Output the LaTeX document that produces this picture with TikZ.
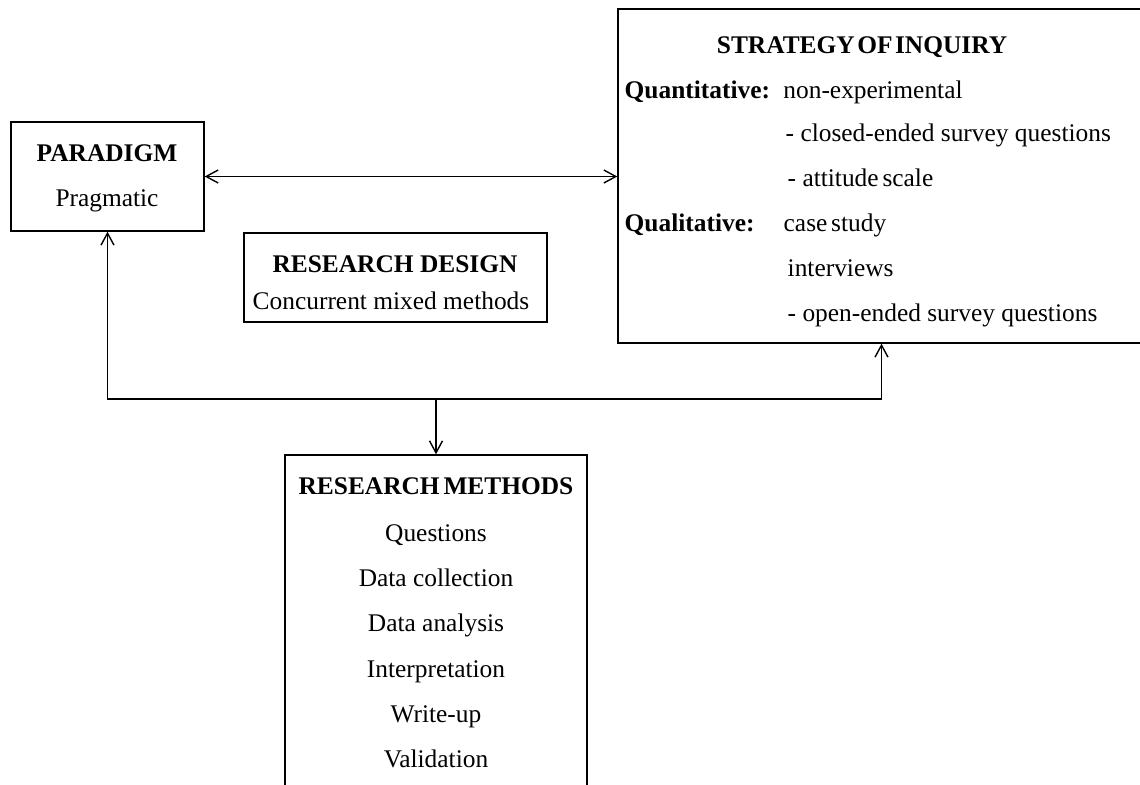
\documentclass[tikz,border=0pt]{standalone}
\usepackage{fontspec}
\setmainfont{Liberation Serif}
\usetikzlibrary{arrows.meta,positioning}
\newcommand\diagfont{\fontsize{12.7}{15}\selectfont}

\begin{document}
\begin{tikzpicture}[x=0.5pt,y=-0.5pt,line width=0.7pt,
    >={Straight Barb[length=6pt,width=6.5pt]},
    box/.style={draw,inner sep=0pt},
    ctxt/.style={anchor=base,inner sep=0pt,font=\diagfont},
    ltxt/.style={anchor=base west,inner sep=0pt,font=\diagfont},
    bold/.style={font=\diagfont\bfseries}]
  \useasboundingbox (0,0) rectangle (1140,785);

  % boxes
  \node[box,minimum width=96.5pt,minimum height=54.5pt] (paradigm) at (107.5,176.5) {};
  \node[box,minimum width=151.5pt,minimum height=44.5pt] (design) at (395.5,277.5) {};
  \node[box,minimum width=263.5pt,minimum height=167pt] (strategy) at (881.5,176) {};
  \node[box,minimum width=151pt,minimum height=182.5pt] (methods) at (436,637.5) {};

  % paradigm
  \node[ctxt,bold] (partitle) at (107,162) {PARADIGM};
  \node[ctxt] (parprag) at (107,207) {Pragmatic};

  % research design
  \node[ctxt,bold] (destitle) at (395,273) {RESEARCH DESIGN};
  \node[ctxt] (desconc) at (391,310) {Concurrent mixed methods};

  % strategy of inquiry
  \node[ctxt,bold] (strtitle) at (862,54) {STRATEGY\hspace{0.1em}OF\hspace{0.1em}INQUIRY};
  \node[ltxt,bold] (quant) at (624,99) {Quantitative:};
  \node[ltxt] (nonexp) at ([xshift=6pt]quant.base east) {non-experimental};
  \node[ltxt] (closed) at (785,142) {- closed-ended survey questions};
  \node[ltxt] (attitude) at (787,187) {- attitude\hspace{0.15em}scale};
  \node[ltxt,bold] (qual) at (624,232) {Qualitative:};
  \node[ltxt] (casestudy) at (783,232) {case\hspace{0.15em}study};
  \node[ltxt] (interviews) at (787,277) {interviews};
  \node[ltxt] (openended) at (787,322) {- open-ended survey questions};

  % research methods
  \node[ctxt,bold] (mettitle) at (436,495) {RESEARCH\hspace{0.15em}METHODS};
  \node[ctxt] (met1) at (436,542) {Questions};
  \node[ctxt] (met2) at (436,587) {Data collection};
  \node[ctxt] (met3) at (436,632) {Data analysis};
  \node[ctxt] (met4) at (436,677) {Interpretation};
  \node[ctxt] (met5) at (436,722) {Write-up};
  \node[ctxt] (met6) at (436,767) {Validation};

  % connectors
  \coordinate (fork) at (436,399);
  \draw[<->] (paradigm.east) -- (paradigm.east -| strategy.west);
  \draw[<->] (paradigm.south) |- (fork) -| (strategy.south);
  \draw[->] (fork) -- (methods.north);
\end{tikzpicture}
\end{document}
